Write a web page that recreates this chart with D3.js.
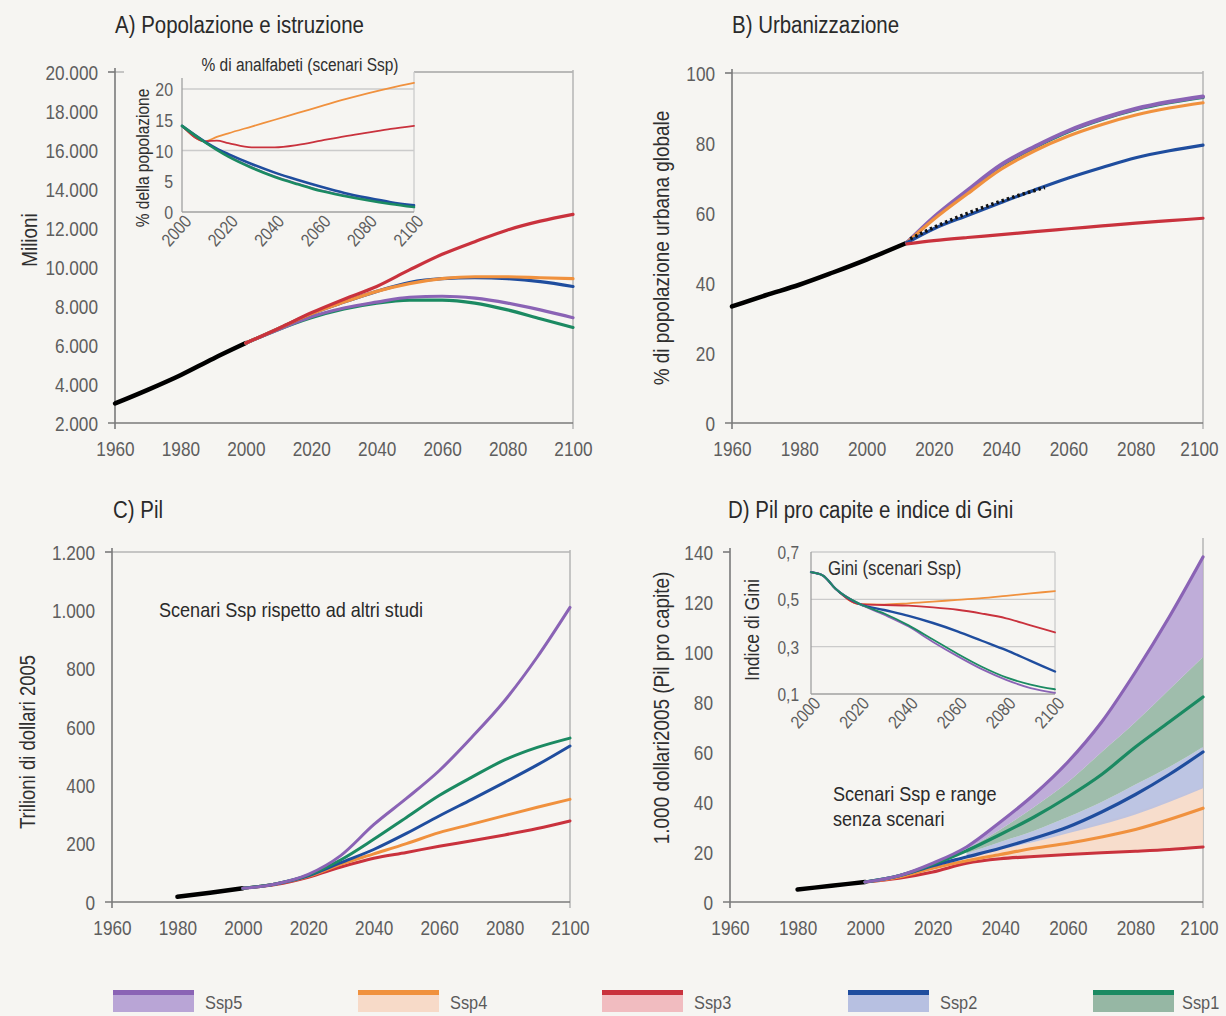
<!DOCTYPE html>
<html><head><meta charset="utf-8">
<script src="https://cdn.jsdelivr.net/npm/d3@7"></script>
<style>
html,body{margin:0;padding:0;background:#f6f5f2;}
svg{display:block;font-family:"Liberation Sans",Arial,sans-serif;}
</style></head><body>
<svg id="c" width="1226" height="1016"></svg>
<script>
// ---------- DATA ----------
const scenarios = ["Ssp5","Ssp4","Ssp3","Ssp2","Ssp1"];
const lineColors = {Ssp5:"#8a63b5",Ssp4:"#f0913e",Ssp3:"#c9323d",Ssp2:"#1f4d9e",Ssp1:"#1b8a62"};
const fillColors = {Ssp5:"#b9a5d6",Ssp4:"#f7dac8",Ssp3:"#f1bcc0",Ssp2:"#b7c0e1",Ssp1:"#96b7a4"};
const drawOrder = ["Ssp1","Ssp5","Ssp2","Ssp4","Ssp3"];

const xTicksMain = [1960,1980,2000,2020,2040,2060,2080,2100];
const xTicksInset = [2000,2020,2040,2060,2080,2100];

// A) population (millions)
const popHistYears = [1960,1970,1980,1990,2000];
const popHist = [3000,3700,4450,5300,6100];
const popYears = [2000,2010,2020,2030,2040,2050,2060,2070,2080,2090,2100];
const popSsp3 = [6100,6850,7650,8350,9000,9850,10650,11300,11900,12350,12700];
const popSsp4 = [6100,6850,7600,8200,8750,9150,9400,9500,9500,9450,9400];
const popSsp2 = [6100,6850,7600,8200,8750,9200,9400,9450,9400,9250,9000];
const popSsp5 = [6100,6800,7450,7900,8200,8450,8500,8400,8150,7800,7400];
const popSsp1 = [6100,6800,7400,7850,8150,8300,8300,8150,7800,7350,6900];
const popTicks = [2000,4000,6000,8000,10000,12000,14000,16000,18000,20000];

// A inset) illiteracy %
const illYears = [2000,2010,2015,2020,2030,2040,2050,2060,2070,2080,2090,2100];
const illSsp4 = [14,11.5,12.2,12.8,13.9,15,16.1,17.2,18.3,19.3,20.2,21];
const illSsp3 = [14,11.5,11.6,11.2,10.5,10.5,10.9,11.6,12.3,12.9,13.5,14];
const illSsp2 = [14,11.4,10.3,9.4,7.8,6.4,5.2,4.1,3.1,2.3,1.6,1.1];
const illSsp1 = [14,11.3,10.1,9.0,7.2,5.7,4.5,3.4,2.6,1.9,1.3,0.8];
const illSsp5 = [14,11.3,10.2,9.1,7.3,5.8,4.6,3.5,2.7,2.0,1.4,0.9];
const illTicks = [0,5,10,15,20];

// B) urbanisation %
const urbHistYears = [1960,1970,1980,1990,2000,2012];
const urbHist = [33.3,36.5,39.5,43,46.7,51.5];
const urbYears = [2012,2020,2030,2040,2050,2060,2070,2080,2090,2100];
const urbSsp5 = [51.5,58.8,66.5,73.8,79,83.5,87,89.8,91.8,93.3];
const urbSsp1 = [51.5,58.6,66.3,73.5,78.7,83.2,86.7,89.5,91.5,93];
const urbSsp4 = [51.5,58.2,65.5,72.5,77.8,82,85.3,88,90,91.5];
const urbSsp2 = [51.5,55.5,59.3,63,66.6,70,73,75.8,77.8,79.4];
const urbSsp3 = [51.2,52.1,53,53.8,54.7,55.5,56.3,57.1,57.8,58.5];
const urbOtherYears = [2013,2020,2030,2040,2053];
const urbOther = [52.6,55.9,59.9,63.4,67.3];
const urbTicks = [0,20,40,60,80,100];

// C) GDP (trillion 2005 $)
const gdpHistYears = [1980,1990,2000];
const gdpHist = [18,32,47];
const gdpYears = [2000,2010,2020,2030,2040,2050,2060,2070,2080,2090,2100];
const gdpSsp5 = [47,62,95,160,265,355,450,565,690,840,1010];
const gdpSsp1 = [47,62,92,145,215,290,365,428,487,530,562];
const gdpSsp2 = [47,62,90,135,180,235,295,352,410,470,535];
const gdpSsp4 = [47,62,88,130,165,200,238,267,296,325,352];
const gdpSsp3 = [47,60,85,120,150,170,191,210,230,252,278];
const gdpTicks = [0,200,400,600,800,1000,1200];

// D) GDP per capita (thousand 2005 $)
const gdpcHistYears = [1980,1990,2000];
const gdpcHist = [5,6.5,8];
const gdpcYears = [2000,2010,2020,2030,2040,2050,2060,2070,2080,2090,2100];
const gdpcSsp5 = [8,10.5,15.5,22,32,43,56,72,92,114,138];
const gdpcSsp1 = [8,10.5,15,20.5,27,34,42,51,62,72,82];
const gdpcSsp2 = [8,10.5,14.5,18,21.5,25.5,30,36,43,51,60];
const gdpcSsp4 = [8,10,13.5,16.5,19,21.5,23.5,26,29,33,37.5];
const gdpcSsp3 = [8,9.5,12,15.5,17.3,18.2,19,19.7,20.3,21,22];
const bandYears = [2030,2040,2050,2060,2070,2080,2090,2100];
const bandSsp5Low = [21,29,38,48,60,72,85,98];
const bandSsp5High = [22,32,43,56,72,92,114,138];
const bandSsp1Low = [19.5,24,28.5,34,40,47,54,62];
const bandSsp2Low = [18,21,24,27.5,31,35,40,45.5];
const bandSsp4High = [18,21,24,28,32,36,41,46];
const bandSsp4Low = [15.5,17.3,18.2,19,19.7,20.3,21,22];
const gdpcTicks = [0,20,40,60,80,100,120,140];

// D inset) Gini
const giniYears = [2000,2005,2010,2020,2030,2040,2050,2060,2070,2080,2090,2100];
const giniSsp4 = [0.615,0.6,0.545,0.48,0.478,0.483,0.49,0.498,0.505,0.515,0.525,0.535];
const giniSsp3 = [0.615,0.6,0.545,0.48,0.476,0.473,0.466,0.456,0.44,0.42,0.39,0.36];
const giniSsp2 = [0.615,0.6,0.545,0.48,0.455,0.43,0.40,0.365,0.325,0.285,0.24,0.195];
const giniSsp5 = [0.615,0.6,0.545,0.48,0.435,0.385,0.32,0.26,0.205,0.16,0.125,0.105];
const giniSsp1 = [0.615,0.6,0.545,0.48,0.44,0.39,0.33,0.27,0.215,0.17,0.14,0.12];
const giniTicks = [0.1,0.3,0.5,0.7];

// ---------- DRAW ----------
const svg = d3.select("#c");
svg.append("rect").attr("width",1226).attr("height",1016).attr("fill","#f6f5f2");
const itFmt = d3.formatLocale({decimal:",",thousands:".",grouping:[3],currency:["","€"]});
const fmtThousands = itFmt.format(",.0f");
const fmtDec = itFmt.format(".1f");
const tickColor = "#5e5e5e";
const axisColor = "#7a7a7a";
const borderColor = "#b4b4b4";
const TICK_FS = "20px";

function zip(xs, ys){ return xs.map((x,i)=>[x,ys[i]]); }

function panel(o){
  const g = svg.append("g");
  const x = d3.scaleLinear().domain([1960,2100]).range([o.x0,o.x1]);
  const y = d3.scaleLinear().domain(o.ydom).range([o.yb,o.yt]);
  if(o.top) g.append("line").attr("x1",o.x0).attr("x2",o.x1).attr("y1",o.yt).attr("y2",o.yt).attr("stroke",borderColor).attr("stroke-width",1.5);
  g.append("line").attr("x1",o.x1).attr("x2",o.x1).attr("y1",o.yt-(o.rExt||2)).attr("y2",o.yb+6).attr("stroke",borderColor).attr("stroke-width",1.5);
  const ya = g.append("g").attr("transform",`translate(${o.x0},0)`)
    .call(d3.axisLeft(y).tickValues(o.yticks).tickSize(0).tickPadding(17).tickFormat(o.yfmt));
  ya.select(".domain").remove();
  ya.selectAll("text").attr("fill",tickColor).style("font-size",TICK_FS).attr("dy","0.36em");
  const xa = g.append("g").attr("transform",`translate(0,${o.yb})`)
    .call(d3.axisBottom(x).tickValues(xTicksMain).tickSize(0).tickPadding(19).tickFormat(d3.format("d")));
  xa.select(".domain").remove();
  xa.selectAll("text").attr("fill",tickColor).style("font-size",TICK_FS);
  if(o.x1>1150) xa.selectAll("text").filter(d=>d===2100).attr("dx","-4");
  g.append("line").attr("x1",o.x0).attr("x2",o.x0).attr("y1",o.yt-4).attr("y2",o.yb+6).attr("stroke",axisColor).attr("stroke-width",1.6);
  g.append("line").attr("x1",o.x0-7).attr("x2",o.x1).attr("y1",o.yb).attr("y2",o.yb).attr("stroke",axisColor).attr("stroke-width",1.6);
  g.append("line").attr("x1",o.x0-7).attr("x2",o.x0).attr("y1",o.yt).attr("y2",o.yt).attr("stroke",axisColor).attr("stroke-width",1.6);
  svg.append("text").attr("x",o.titleX).attr("y",o.titleY).text(o.title)
    .attr("fill","#2a2a2a").style("font-size","23.5px").attr("data-f",0.87);
  svg.append("text").attr("transform",`translate(${o.ylabX},${o.ylabY}) rotate(-90)`)
    .attr("text-anchor","middle").text(o.ylab).attr("fill","#2f2f2f").style("font-size",o.ylabFs||"21.5px");
  return {g,x,y};
}

function drawLine(g,x,y,xs,ys,color,w,curve,dash){
  const line = d3.line().x(d=>x(d[0])).y(d=>y(d[1])).curve(curve||d3.curveMonotoneX);
  const p = g.append("path").datum(zip(xs,ys)).attr("d",line).attr("fill","none")
    .attr("stroke",color).attr("stroke-width",w).attr("stroke-linecap","round").attr("stroke-linejoin","round");
  if(dash) p.attr("stroke-dasharray",dash).attr("stroke-linecap","butt");
  return p;
}

function inset(o){
  const g = svg.append("g");
  g.append("rect").attr("x",o.bgx).attr("y",o.bgy).attr("width",o.bgw).attr("height",o.bgh).attr("fill","#f6f5f2");
  const x = d3.scaleLinear().domain([2000,2100]).range([o.x0,o.x1]);
  const y = d3.scaleLinear().domain(o.ydom).range([o.yb,o.yt]);
  o.grid.forEach(v=>g.append("line").attr("x1",o.x0).attr("x2",o.x1).attr("y1",y(v)).attr("y2",y(v)).attr("stroke","#cbcbcb").attr("stroke-width",1.3));
  g.append("line").attr("x1",o.x1).attr("x2",o.x1).attr("y1",o.rTop).attr("y2",o.yb).attr("stroke","#cbcbcb").attr("stroke-width",1.3);
  g.append("line").attr("x1",o.x0).attr("x2",o.x0).attr("y1",o.lTop).attr("y2",o.yb).attr("stroke","#a0a0a0").attr("stroke-width",1.3);
  g.append("line").attr("x1",o.x0).attr("x2",o.x1).attr("y1",o.yb).attr("y2",o.yb).attr("stroke","#a0a0a0").attr("stroke-width",1.3);
  const ya = g.append("g").attr("transform",`translate(${o.x0},0)`)
    .call(d3.axisLeft(y).tickValues(o.yticks).tickSize(0).tickPadding(o.yPad).tickFormat(o.yfmt));
  ya.select(".domain").remove();
  ya.selectAll("text").attr("fill",tickColor).style("font-size",o.yFs).attr("dy","0.36em");
  const xa = g.append("g").attr("transform",`translate(0,${o.yb})`)
    .call(d3.axisBottom(x).tickValues(xTicksInset).tickSize(0).tickFormat(d3.format("d")));
  xa.select(".domain").remove();
  xa.selectAll("text").attr("fill",tickColor).style("font-size","18px")
    .attr("text-anchor","end").attr("dy",null).attr("y",0)
    .attr("transform","translate(10,10) rotate(-48)");
  g.append("text").attr("x",o.tX).attr("y",o.tY).attr("text-anchor",o.tAnchor).text(o.title)
    .attr("fill","#2f2f2f").style("font-size",o.tFs);
  g.append("text").attr("transform",`translate(${o.ylX},${o.ylY}) rotate(-90)`)
    .attr("text-anchor","middle").text(o.ylab).attr("fill","#2f2f2f").style("font-size",o.ylFs);
  return {g,x,y};
}

// ----- Panel A -----
const A = panel({x0:115,x1:573,yb:423,yt:72,ydom:[2000,20000],yticks:popTicks,yfmt:fmtThousands,top:true,
  title:"A) Popolazione e istruzione",titleX:115,titleY:33,ylab:"Milioni",ylabX:37,ylabY:240,ylabFs:"22px"});
drawLine(A.g,A.x,A.y,popHistYears,popHist,"#000",4.5);
const popSeries = {Ssp1:popSsp1,Ssp5:popSsp5,Ssp2:popSsp2,Ssp4:popSsp4,Ssp3:popSsp3};
drawOrder.forEach(s=>drawLine(A.g,A.x,A.y,popYears,popSeries[s],lineColors[s],3.2));

const AI = inset({bgx:124,bgy:50,bgw:290,bgh:196,x0:182,x1:414,yb:212,yt:89,ydom:[0,20],grid:[10,20],rTop:72,lTop:78,
  yticks:illTicks,yfmt:d3.format("d"),yPad:9,yFs:"18.5px",title:"% di analfabeti (scenari Ssp)",tX:300,tY:71,tAnchor:"middle",tFs:"18px",
  ylab:"% della popolazione",ylX:149,ylY:158,ylFs:"18px"});
const illSeries = {Ssp1:illSsp1,Ssp5:illSsp5,Ssp2:illSsp2,Ssp4:illSsp4,Ssp3:illSsp3};
["Ssp4","Ssp3","Ssp5","Ssp2","Ssp1"].forEach(s=>drawLine(AI.g,AI.x,AI.y,illYears,illSeries[s],lineColors[s],s==="Ssp1"||s==="Ssp2"?2.6:1.8));
A.g.append("line").attr("x1",414).attr("x2",573).attr("y1",72).attr("y2",72).attr("stroke",borderColor).attr("stroke-width",1.5);

// ----- Panel B -----
const B = panel({x0:732,x1:1203,yb:423,yt:73,ydom:[0,100],yticks:urbTicks,yfmt:d3.format("d"),top:true,
  title:"B) Urbanizzazione",titleX:732,titleY:33,ylab:"% di popolazione urbana globale",ylabX:669,ylabY:248,ylabFs:"22px"});
drawLine(B.g,B.x,B.y,urbHistYears,urbHist,"#000",4.5);
const urbSeries = {Ssp1:urbSsp1,Ssp5:urbSsp5,Ssp2:urbSsp2,Ssp4:urbSsp4,Ssp3:urbSsp3};
["Ssp1","Ssp5","Ssp4","Ssp2","Ssp3"].forEach(s=>drawLine(B.g,B.x,B.y,urbYears,urbSeries[s],lineColors[s],s==="Ssp5"?4:3.2));
drawLine(B.g,B.x,B.y,urbOtherYears,urbOther,"#111",3.5,d3.curveMonotoneX,"2.5,3");

// ----- Panel C -----
const C = panel({x0:112,x1:570,yb:902,yt:552,ydom:[0,1200],yticks:gdpTicks,yfmt:fmtThousands,top:true,
  title:"C) Pil",titleX:113,titleY:518,ylab:"Trilioni di dollari 2005",ylabX:35,ylabY:742,ylabFs:"21.5px"});
drawLine(C.g,C.x,C.y,gdpHistYears,gdpHist,"#000",4.5);
const gdpSeries = {Ssp1:gdpSsp1,Ssp5:gdpSsp5,Ssp2:gdpSsp2,Ssp4:gdpSsp4,Ssp3:gdpSsp3};
["Ssp3","Ssp4","Ssp2","Ssp1","Ssp5"].forEach(s=>drawLine(C.g,C.x,C.y,gdpYears,gdpSeries[s],lineColors[s],3));
svg.append("text").attr("x",159).attr("y",617).text("Scenari Ssp rispetto ad altri studi").attr("fill","#2a2a2a").style("font-size","21px");

// ----- Panel D -----
const D = panel({x0:730,x1:1203,yb:902,yt:552,ydom:[0,140],yticks:gdpcTicks,yfmt:d3.format("d"),top:false,rExt:14,
  title:"D) Pil pro capite e indice di Gini",titleX:728,titleY:518,ylab:"1.000 dollari2005 (Pil pro capite)",ylabX:669,ylabY:708,ylabFs:"22px"});
function band(lo,hi,color){
  const area = d3.area().x(d=>D.x(d[0])).y0(d=>D.y(d[1])).y1(d=>D.y(d[2])).curve(d3.curveMonotoneX);
  D.g.append("path").datum(bandYears.map((yr,i)=>[yr,lo[i],hi[i]])).attr("d",area).attr("fill",color).attr("fill-opacity",0.9);
}
band(bandSsp4Low,bandSsp4High,fillColors.Ssp4);
band(bandSsp2Low,bandSsp1Low,fillColors.Ssp2);
band(bandSsp1Low,bandSsp5Low,fillColors.Ssp1);
band(bandSsp5Low,bandSsp5High,fillColors.Ssp5);
drawLine(D.g,D.x,D.y,gdpcHistYears,gdpcHist,"#000",4.5);
const gdpcSeries = {Ssp1:gdpcSsp1,Ssp5:gdpcSsp5,Ssp2:gdpcSsp2,Ssp4:gdpcSsp4,Ssp3:gdpcSsp3};
["Ssp3","Ssp4","Ssp2","Ssp1","Ssp5"].forEach(s=>drawLine(D.g,D.x,D.y,gdpcYears,gdpcSeries[s],lineColors[s],3.2));
svg.append("text").attr("x",833).attr("y",801).text("Scenari Ssp e range").attr("fill","#2a2a2a").style("font-size","21px");
svg.append("text").attr("x",833).attr("y",826).text("senza scenari").attr("fill","#2a2a2a").style("font-size","21px");

const DI = inset({bgx:745,bgy:538,bgw:310,bgh:152,x0:811,x1:1055,yb:694,yt:552,ydom:[0.1,0.7],grid:[0.3,0.5,0.7],rTop:552,lTop:552,
  yticks:giniTicks,yfmt:fmtDec,yPad:12,yFs:"18px",title:"Gini (scenari Ssp)",tX:828,tY:575,tAnchor:"start",tFs:"19.5px",
  ylab:"Indice di Gini",ylX:759,ylY:630,ylFs:"20.5px"});
const giniSeries = {Ssp1:giniSsp1,Ssp5:giniSsp5,Ssp2:giniSsp2,Ssp4:giniSsp4,Ssp3:giniSsp3};
["Ssp4","Ssp3","Ssp2","Ssp5","Ssp1"].forEach(s=>drawLine(DI.g,DI.x,DI.y,giniYears,giniSeries[s],lineColors[s],s==="Ssp2"?2.4:1.8));

// ----- Legend -----
const legX = [113,358,602,848,1093];
const leg = svg.append("g");
scenarios.forEach((s,i)=>{
  leg.append("rect").attr("x",legX[i]).attr("y",990).attr("width",81).attr("height",22).attr("fill",fillColors[s]);
  leg.append("rect").attr("x",legX[i]).attr("y",990).attr("width",81).attr("height",5).attr("fill",lineColors[s]);
  leg.append("text").attr("x",legX[i]+(i===4?89:92)).attr("y",1009).text(s).attr("fill","#5a5a5a").style("font-size","19px");
});

// condensed look: squeeze every text horizontally
svg.selectAll("text").each(function(){
  const f = +(this.getAttribute("data-f") || 0.86);
  const L = this.getComputedTextLength();
  if(L>0) d3.select(this).attr("textLength",L*f).attr("lengthAdjust","spacingAndGlyphs");
});
</script></body></html>
